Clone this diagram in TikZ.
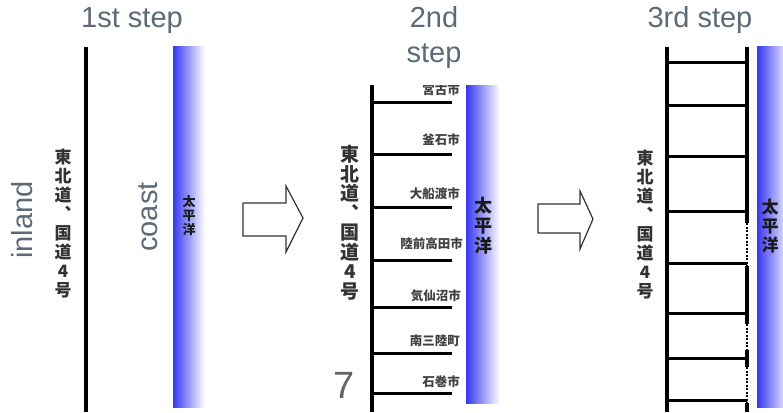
\documentclass[tikz,border=0pt]{standalone}
\usepackage{fontspec}
\setmainfont{Liberation Sans}
\newfontfamily\cjk{Noto Sans CJK JP}
\definecolor{slate}{RGB}{92,106,120}
\definecolor{seablue}{RGB}{55,55,240}
\definecolor{numgray}{RGB}{100,100,100}
\begin{document}
\begin{tikzpicture}[x=1pt,y=-1pt,
  title/.style={text=slate, font=\fontsize{29}{34}\selectfont, inner sep=0},
  road/.style={line width=3.6pt, black},
  rung/.style={line width=3pt, black},
  dotrail/.style={line width=2.4pt, black, dash pattern=on 2pt off 1.5pt},
  sea/.style={left color=seablue, right color=white, draw=none},
  vlabel/.style={font=\cjk\bfseries\fontsize{17}{19}\selectfont, align=center, inner sep=0, text=black!80},
  sealabel/.style={align=center, inner sep=0, text=black!90},
  city/.style={font=\cjk\bfseries\fontsize{12.5}{13}\selectfont, anchor=east, inner sep=0, text=black!75},
  bigarrow/.style={draw=black!80, line width=1.2pt, fill=white, line join=miter}]
\useasboundingbox (0,0) rectangle (783,412);

% ---------- panel 1 ----------
\node[title, anchor=base] (t1) at (132,28) {1st step};
\node[title, rotate=90] (inland) at (22,220) {inland};
\node[title, rotate=90] (coast) at (148,217) {coast};
\shade[sea] (173,47) rectangle (205,407);
\coordinate (r1top) at (86,47);
\coordinate (r1bot) at (86,412);
\draw[road] (r1top) -- (r1bot);
\node[vlabel] (hw1) at (63,224) {東\\北\\道\\︑\\国\\道\\4\\号};
\node[sealabel, font=\cjk\bfseries\fontsize{13}{14}\selectfont] (sea1) at (189,216) {太\\平\\洋};

% arrow 1
\draw[bigarrow] (243,203) -- (286,203) -- (286,186) -- (303,218) -- (286,252) -- (286,236) -- (243,236) -- cycle;

% ---------- panel 2 ----------
\node[title, anchor=base] (t2a) at (434,28) {2nd};
\node[title, anchor=base] (t2b) at (434,63) {step};
\shade[sea] (466,85) rectangle (500,403);
\coordinate (r2top) at (372,85);
\coordinate (r2bot) at (372,412);
\draw[road] (r2top) -- (r2bot);
\foreach \y/\n in {102/a,154/b,207/c,260/d,307/e,353/f,393/g}{
  \coordinate (L\n) at (372,\y);
  \coordinate (R\n) at (452,\y);
  \draw[rung] (L\n) -- (R\n);
}
\begin{scope}
\clip (372,85) rectangle (466,412);
\node[city] (c1) at (460,90) {宮古市};
\node[city] (c2) at (460,140) {釜石市};
\node[city] (c3) at (460,194) {大船渡市};
\node[city] (c4) at (463,244) {陸前高田市};
\node[city] (c5) at (461,296) {気仙沼市};
\node[city] (c6) at (460,341) {南三陸町};
\node[city] (c7) at (460,382) {石巻市};
\end{scope}
\node[vlabel, font=\cjk\bfseries\fontsize{19}{19.5}\selectfont] (hw2) at (350,223) {東\\北\\道\\︑\\国\\道\\4\\号};
\node[sealabel, font=\cjk\bfseries\fontsize{18}{20}\selectfont] (sea2) at (483,226) {太\\平\\洋};
\node[font=\fontsize{38}{40}\selectfont, text=numgray, anchor=base, inner sep=0] (pg) at (344,398) {7};

% arrow 2
\draw[bigarrow] (538,204) -- (580,204) -- (580,191) -- (593,219) -- (580,249) -- (580,233) -- (538,233) -- cycle;

% ---------- panel 3 ----------
\node[title, anchor=base] (t3) at (700,28) {3rd step};
\shade[sea] (757,47) rectangle (790,407);
\coordinate (l3top) at (667,47);
\coordinate (l3bot) at (667,412);
\draw[road] (l3top) -- (l3bot);
\coordinate (p0) at (747,47);
\coordinate (p1) at (747,223);
\coordinate (p2) at (747,266);
\coordinate (p3) at (747,324);
\coordinate (p4) at (747,350);
\coordinate (p5) at (747,367);
\coordinate (p6) at (747,403);
\coordinate (p7) at (747,412);
\draw[road] (p0) -- (p1);
\draw[dotrail] (p1) -- (p2);
\draw[road] (p2) -- (p3);
\draw[dotrail] (p3) -- (p4);
\draw[road] (p4) -- (p5);
\draw[dotrail] (p5) -- (p6);
\draw[road] (p6) -- (p7);
\foreach \y/\n in {62/a,105/b,156/c,211/d,263/e,313/f,358/g,400/h}{
  \coordinate (M\n) at (667,\y);
  \coordinate (N\n) at (747,\y);
  \draw[rung] (M\n) -- (N\n);
}
\node[vlabel] (hw3) at (645,225) {東\\北\\道\\︑\\国\\道\\4\\号};
\node[sealabel, font=\cjk\bfseries\fontsize{17}{19}\selectfont] (sea3) at (770,226) {太\\平\\洋};
\end{tikzpicture}
\end{document}
